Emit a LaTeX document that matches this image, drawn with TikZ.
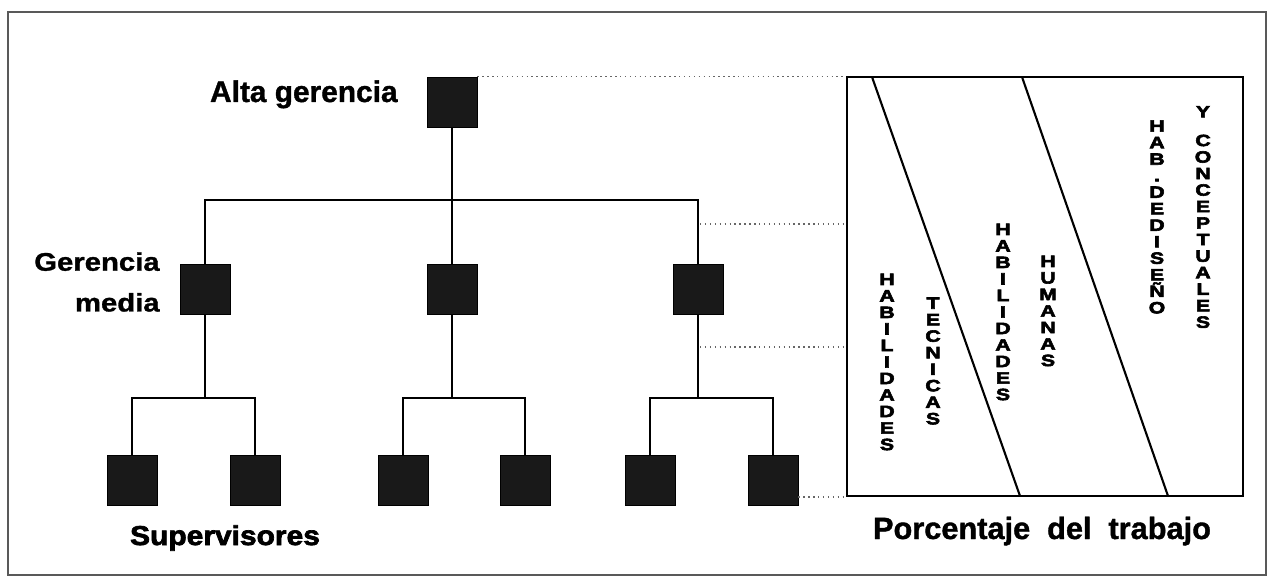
\documentclass[tikz,border=0pt]{standalone}
\usepackage{fontspec}
\setmainfont{Liberation Sans}
\newfontfamily\widefont{Liberation Sans}[UprightFont=* Bold, FakeStretch=1.15, FakeBold=1.2]
\newfontfamily\heavyfont{Liberation Sans}[UprightFont=* Bold, FakeStretch=1.1, FakeBold=2.5]
\newfontfamily\letrafont{Liberation Sans}[UprightFont=* Bold, FakeStretch=1.3, FakeBold=3.5]
\newfontfamily\titlefont{Liberation Sans}[UprightFont=* Bold, FakeBold=1.2]
\usetikzlibrary{positioning}

\begin{document}
\begin{tikzpicture}[x=0.02cm,y=-0.02cm,
  puesto/.style={draw=black,fill=black!90,minimum size=1cm,inner sep=0pt},
  rama/.style={line width=0.9pt},
  guia/.style={dotted,black!60,line width=0.8pt},
  titulo/.style={font=\titlefont\fontsize{17}{20}\selectfont,inner sep=0pt},
  vert/.style={font=\letrafont\fontsize{9.3}{9.4}\selectfont,align=center,inner sep=0pt}]
  \useasboundingbox (0,0) rectangle (1270,577);
  \draw[black!65,line width=0.8pt] (8,12) rectangle (1266,575);

  \node[puesto] (alta) at (452,102) {};
  \node[puesto] (medl) at (205,289) {};
  \node[puesto] (medc) at (452,289) {};
  \node[puesto] (medr) at (698,289) {};
  \node[puesto] (sup1) at (132,480) {};
  \node[puesto] (sup2) at (255,480) {};
  \node[puesto] (sup3) at (403,480) {};
  \node[puesto] (sup4) at (525,480) {};
  \node[puesto] (sup5) at (650,480) {};
  \node[puesto] (sup6) at (773,480) {};

  \node[titulo,anchor=base east] (lalta) at (398,102) {Alta gerencia};
  \node[titulo,font=\widefont\fontsize{14.5}{23.2}\selectfont,align=right,anchor=east] (lmedia) at (160,282) {Gerencia\\media};
  \node[titulo,font=\heavyfont\fontsize{15.5}{19}\selectfont,anchor=base] (lsup) at (225,545) {Supervisores};
  \node[titulo,font=\titlefont\fontsize{17.5}{21}\selectfont,anchor=base] (lpor) at (1042,539) {Porcentaje\hspace{0.55em}del\hspace{0.55em}trabajo};

  \coordinate (barra) at (452,200);
  \coordinate (jl) at (205,398);
  \coordinate (jc) at (452,398);
  \coordinate (jr) at (698,398);
  \draw[rama] (alta) -- (medc);
  \draw[rama] (medl.north) |- (barra) -| (medr.north);
  \draw[rama] (medl) -- (jl);
  \draw[rama] (medc) -- (jc);
  \draw[rama] (medr) -- (jr);
  \draw[rama] (sup1.north) |- (jl) -| (sup2.north);
  \draw[rama] (sup3.north) |- (jc) -| (sup4.north);
  \draw[rama] (sup5.north) |- (jr) -| (sup6.north);

  \node[draw,line width=1.2pt,minimum width=7.92cm,minimum height=8.38cm,inner sep=0pt] (panel) at (1045,286.5) {};
  \draw[line width=1.2pt] (872,77) -- (1020,496);
  \draw[line width=1.2pt] (1022,77) -- (1168,496);

  \coordinate (g1) at (700,224);
  \coordinate (g2) at (700,347);
  \draw[guia] (alta.north east) -- (alta.north east -| panel.west);
  \draw[guia] (g1) -- (g1 -| panel.west);
  \draw[guia] (g2) -- (g2 -| panel.west);
  \draw[guia] (sup6.east |- panel.south) -- (panel.south west);

  \node[vert] (hab1) at (887,362) {H\\A\\B\\I\\L\\I\\D\\A\\D\\E\\S};
  \node[vert] (tec) at (933,361) {T\\E\\C\\N\\I\\C\\A\\S};
  \node[vert] (hab2) at (1003,312) {H\\A\\B\\I\\L\\I\\D\\A\\D\\E\\S};
  \node[vert] (hum) at (1048,311) {H\\U\\M\\A\\N\\A\\S};
  \node[vert] (dis) at (1157,217) {H\\A\\B\\.\\D\\E\\D\\I\\S\\E\\Ñ\\O};
  \node[vert] (conc) at (1203,217) {Y\\[7pt]C\\O\\N\\C\\E\\P\\T\\U\\A\\L\\E\\S};
\end{tikzpicture}
\end{document}
